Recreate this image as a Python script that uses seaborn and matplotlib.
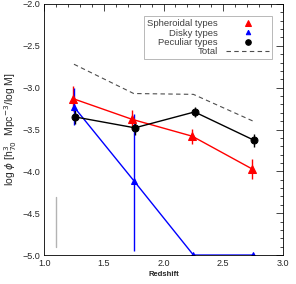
import numpy as np
import pandas as pd
import seaborn as sns
import matplotlib
matplotlib.use("Agg")
import matplotlib.pyplot as plt
from matplotlib.ticker import MultipleLocator

# valores
z_sph = [1.24, 1.74, 2.24, 2.74]
phi_sph = [-3.13, -3.38, -3.58, -3.97]
err_sph = [0.15, 0.11, 0.09, 0.12]

z_disk = [1.25, 1.75, 2.25, 2.75]
phi_disk = [-3.23, -4.11, -5.0, -5.0]
err_disk_lo = [0.22, 0.84, 0.0, 0.0]
err_disk_hi = [0.22, 0.80, 0.0, 0.0]

z_pec = [1.26, 1.76, 2.26, 2.76]
phi_pec = [-3.35, -3.48, -3.29, -3.63]
err_pec = [0.09, 0.08, 0.06, 0.08]

z_tot = [1.25, 1.75, 2.25, 2.75]
phi_tot = [-2.72, -3.07, -3.08, -3.40]

sns.set_style("white")
plt.rcParams['font.family'] = ['Liberation Sans', 'DejaVu Sans']

fig = plt.figure(figsize=(2.96, 2.84), dpi=100)
ax = fig.add_axes([0.149, 0.102, 0.807, 0.884])

df_sph = pd.DataFrame({"z": z_sph, "phi": phi_sph})
df_disk = pd.DataFrame({"z": z_disk, "phi": phi_disk})
df_pec = pd.DataFrame({"z": z_pec, "phi": phi_pec})
df_tot = pd.DataFrame({"z": z_tot, "phi": phi_tot})

# barras de erro
ax.errorbar(z_sph, phi_sph, yerr=err_sph, fmt='none', ecolor='red', elinewidth=1.0)
ax.errorbar(z_disk[:2], phi_disk[:2], yerr=[err_disk_lo[:2], err_disk_hi[:2]],
            fmt='none', ecolor='blue', elinewidth=1.0)
ax.errorbar(z_pec, phi_pec, yerr=err_pec, fmt='none', ecolor='black', elinewidth=1.0)

sns.lineplot(data=df_tot, x="z", y="phi", ax=ax, color='0.3', linestyle=(0, (4, 3)),
             linewidth=0.8, label='Total')
sns.lineplot(data=df_sph, x="z", y="phi", ax=ax, color='red', linewidth=1.0,
             marker='^', markersize=5.5, markeredgecolor='red', label='Spheroidal types')
sns.lineplot(data=df_disk, x="z", y="phi", ax=ax, color='blue', linewidth=1.0,
             marker='^', markersize=4, markeredgecolor='blue', label='Disky types')
sns.lineplot(data=df_pec, x="z", y="phi", ax=ax, color='black', linewidth=1.0,
             marker='o', markersize=5, markeredgecolor='black', label='Peculiar types')

# barra cinza de referencia
ax.plot([1.1, 1.1], [-4.31, -4.9], color='0.7', linewidth=1.0)

ax.set_xlim(1.0, 3.0)
ax.set_ylim(-5.0, -2.0)
ax.xaxis.set_major_locator(MultipleLocator(0.5))
ax.xaxis.set_minor_locator(MultipleLocator(0.1))
ax.yaxis.set_major_locator(MultipleLocator(0.5))
ax.yaxis.set_minor_locator(MultipleLocator(0.1))
ax.tick_params(which='both', direction='in', top=True, right=True, labelsize=6.5,
               width=0.6, pad=3)
ax.tick_params(which='major', length=5)
ax.tick_params(which='minor', length=2.5)
ax.set_xticklabels([f"{v:.1f}" for v in ax.get_xticks()])
ax.set_yticklabels([f"\u2212{abs(v):.1f}" for v in ax.get_yticks()])
for s in ax.spines.values():
    s.set_linewidth(0.6)
    s.set_color('black')

ax.set_xlabel('Redshift', fontsize=5.5, fontweight='bold', labelpad=2)
ax.set_ylabel(r'log $\phi$ [h$_{70}^{3}$  Mpc$^{-3}$/log M]', fontsize=7.5, labelpad=2)

h, l = ax.get_legend_handles_labels()
order = [1, 2, 3, 0]
leg = ax.legend([h[i] for i in order], [l[i] for i in order], loc='upper right',
                bbox_to_anchor=(0.975, 0.97), markerfirst=False, fontsize=6.8,
                frameon=True, fancybox=False, edgecolor='0.6', handlelength=4.6,
                labelspacing=0.05, borderpad=0.3, handletextpad=0.9, markerscale=0.8)
leg.get_frame().set_linewidth(0.6)
for col in leg._legend_handle_box.get_children():
    col.align = 'right'
for t in leg.get_texts():
    t.set_color('0.25')
for hd in leg.legend_handles[:3]:
    hd.set_linestyle('none')

fig.savefig("out.png", dpi=100)
